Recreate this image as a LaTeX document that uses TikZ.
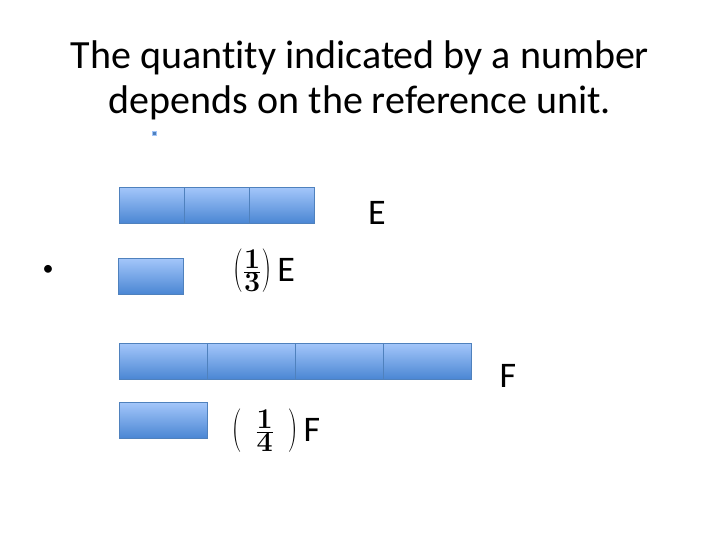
\documentclass[tikz,border=0pt]{standalone}
\usepackage[no-math]{fontspec}
\usepackage{graphicx}
\setmainfont{Carlito}[Ligatures=NoCommon]
\usetikzlibrary{positioning}
\definecolor{celltop}{HTML}{A3C6FA}
\definecolor{cellbot}{HTML}{4A86D3}
\definecolor{celledge}{HTML}{4F81BD}
\tikzset{
  cell/.style={draw=celledge, line width=0.8pt, top color=celltop, bottom color=cellbot, inner sep=0pt, anchor=north west},
  lbl/.style={font=\fontsize{36}{38}\selectfont, inner sep=0pt},
  title/.style={font=\fontsize{40}{45}\selectfont, align=center, inner sep=0pt}
}
\newcommand{\lpar}{\vcenter{\hbox{\scalebox{1.1}[1.75]{$($}}}}
\newcommand{\rpar}{\vcenter{\hbox{\scalebox{1.1}[1.75]{$)$}}}}
\newcommand{\myfrac}[2]{\vcenter{\hbox{\scalebox{1.15}{$\frac{\mathbf{#1}}{\mathbf{#2}}$}}}}
\begin{document}
\begin{tikzpicture}[x=1pt,y=-1pt]
\useasboundingbox (0,0) rectangle (720,540);
\node[title] (t) at (360,80) {The quantity indicated by a number\\depends on the reference unit.};
\node[draw=celltop, fill=celledge, minimum size=4pt, inner sep=0pt] (sq) at (154,133) {};
% E bar
\node[cell, minimum width=65pt, minimum height=36pt] (e1) at (119,187) {};
\node[cell, minimum width=65pt, minimum height=36pt] (e2) at (184,187) {};
\node[cell, minimum width=65pt, minimum height=36pt] (e3) at (249,187) {};
\node[lbl] (eL) at (377,213) {E};
\node[font=\fontsize{22}{22}\selectfont] (b) at (48,270) {•};
\node[cell, minimum width=65pt, minimum height=36pt] (es) at (118,258) {};
\node[lbl] (eF) at (264,271) {\raisebox{4.5pt}{$\lpar\myfrac{1}{3}\rpar$}\,E};
% F bar
\node[cell, minimum width=88pt, minimum height=36pt] (f1) at (119,343) {};
\node[cell, minimum width=88pt, minimum height=36pt] (f2) at (207,343) {};
\node[cell, minimum width=88pt, minimum height=36pt] (f3) at (295,343) {};
\node[cell, minimum width=88pt, minimum height=36pt] (f4) at (383,343) {};
\node[lbl] (fL) at (508,376) {F};
\node[cell, minimum width=88pt, minimum height=36pt] (fs) at (119,402) {};
\node[lbl] (fF) at (276,431) {\raisebox{4.5pt}{$\lpar\;\;\myfrac{1}{4}\;\;\rpar$}\,F};
\end{tikzpicture}
\end{document}
